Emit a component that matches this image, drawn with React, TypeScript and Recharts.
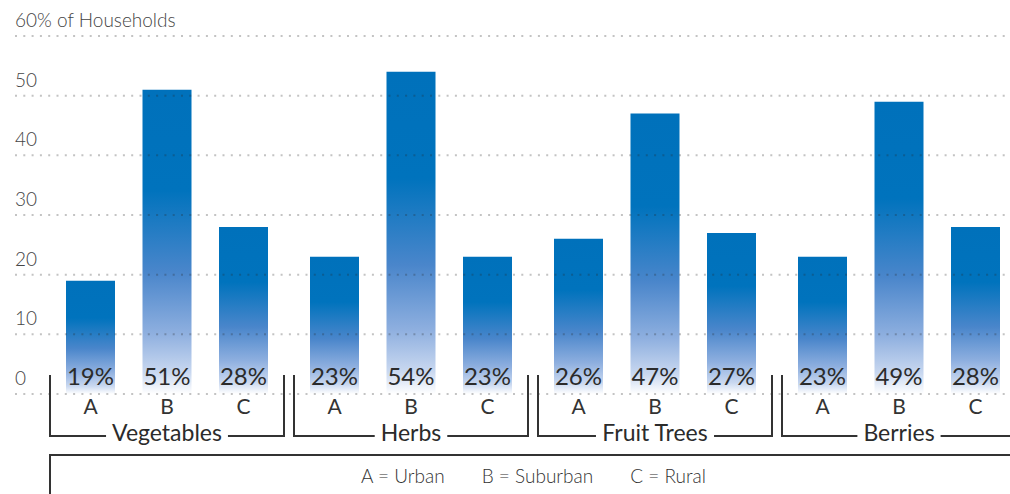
import { BarChart, Bar, XAxis, YAxis, ReferenceLine, LabelList, Legend } from 'recharts';

const groups = ['Vegetables', 'Herbs', 'Fruit Trees', 'Berries'];
const urban = [19, 23, 26, 23];
const suburban = [51, 54, 47, 49];
const rural = [28, 23, 27, 28];
const yTicks = [0, 10, 20, 30, 40, 50, 60];

const series = [
    { key: 'urban', letter: 'A', name: 'Urban' },
    { key: 'suburban', letter: 'B', name: 'Suburban' },
    { key: 'rural', letter: 'C', name: 'Rural' },
];

const data = groups.map((g, i) => ({
    group: g,
    urban: urban[i],
    suburban: suburban[i],
    rural: rural[i],
}));

const FONT = 'Lato, "Open Sans", sans-serif';
const INK = '#2b2b2b';
const LEFT = 15;

let ctx: CanvasRenderingContext2D | null = null;
function textWidth(text: string, size: number) {
    if (!ctx) ctx = document.createElement('canvas').getContext('2d');
    if (!ctx) return text.length * size * 0.5;
    ctx.font = `${size}px Lato`;
    return ctx.measureText(text).width;
}

function YTick({ y, payload }: any) {
    const label = payload.value === 60 ? '60% of Households' : String(payload.value);
    return (
        <text x={LEFT} y={y - 9} fill="#444" fontSize={19} fontWeight={300} fontFamily={FONT} textAnchor="start">
            {label}
        </text>
    );
}

function GroupTick({ x, y, payload }: any) {
    const half = 117;
    const size = 23;
    const w = textWidth(payload.value, size);
    const lineY = y + 42;
    return (
        <g stroke="#333" strokeWidth={2} fill="none">
            <polyline points={`${x - half},${y - 19} ${x - half},${lineY} ${x - w / 2 - 6},${lineY}`} />
            <polyline points={`${x + w / 2 + 6},${lineY} ${x + half},${lineY} ${x + half},${y - 19}`} />
            <text x={x} y={y + 47} stroke="none" fill={INK} fontSize={size} fontFamily={FONT} textAnchor="middle">
                {payload.value}
            </text>
        </g>
    );
}

const barLabel = (letter: string) => (props: any) => {
    const { x, y, width, height, value } = props;
    const cx = x + width / 2;
    const base = y + height;
    return (
        <g fontFamily={FONT} textAnchor="middle">
            <text x={cx} y={base - 9} fill={INK} fontSize={24}>{value}%</text>
            <text x={cx} y={base + 20} fill="#333" fontSize={21}>{letter}</text>
        </g>
    );
};

function KeyBox() {
    return (
        <div
            style={{
                height: 40,
                boxSizing: 'border-box',
                borderTop: '2px solid #333',
                borderLeft: '2px solid #333',
                display: 'flex',
                justifyContent: 'center',
                alignItems: 'center',
                gap: 37,
                fontFamily: FONT,
                fontSize: 19,
                fontWeight: 300,
                color: '#333',
            }}
        >
            {series.map((s) => (
                <span key={s.key}>{s.letter} = {s.name}</span>
            ))}
        </div>
    );
}

export default function App() {
    return (
        <div style={{ position: 'absolute', left: 0, top: 0, width: 1010, height: 494, overflow: 'hidden', background: '#fff' }}>
            <BarChart
                width={1021}
                height={494}
                data={data}
                margin={{ top: 36, right: 0, left: 14, bottom: 0 }}
                barSize={49}
                barGap={27.5}
            >
                <defs>
                    <linearGradient id="barFade" x1="0" y1="0" x2="0" y2="1">
                        <stop offset="0" stopColor="#0071bb" />
                        <stop offset="0.33" stopColor="#0073bd" />
                        <stop offset="0.6" stopColor="#4a86cb" />
                        <stop offset="0.8" stopColor="#8eafdf" />
                        <stop offset="0.93" stopColor="#c9d8f0" />
                        <stop offset="1" stopColor="#ffffff" />
                    </linearGradient>
                </defs>
                <XAxis
                    dataKey="group"
                    axisLine={false}
                    tickLine={false}
                    tickSize={0}
                    tickMargin={0}
                    height={60}
                    interval={0}
                    padding={{ left: 30, right: 0 }}
                    tick={<GroupTick />}
                />
                <YAxis
                    width={1}
                    domain={[0, 60]}
                    ticks={yTicks}
                    interval={0}
                    axisLine={false}
                    tickLine={false}
                    tickSize={0}
                    tickMargin={0}
                    tick={<YTick />}
                />
                {series.map((s) => (
                    <Bar key={s.key} dataKey={s.key} name={s.name} fill="url(#barFade)" isAnimationActive={false}>
                        <LabelList dataKey={s.key} content={barLabel(s.letter)} />
                    </Bar>
                ))}
                {yTicks.map((t) => (
                    <ReferenceLine
                        key={t}
                        y={t}
                        stroke="#282828"
                        strokeOpacity={0.28}
                        strokeWidth={2}
                        strokeDasharray="2 6.3"
                    />
                ))}
                <Legend
                    verticalAlign="bottom"
                    content={() => <KeyBox />}
                    wrapperStyle={{ left: 49, width: 967, bottom: 0 }}
                />
            </BarChart>
        </div>
    );
}
